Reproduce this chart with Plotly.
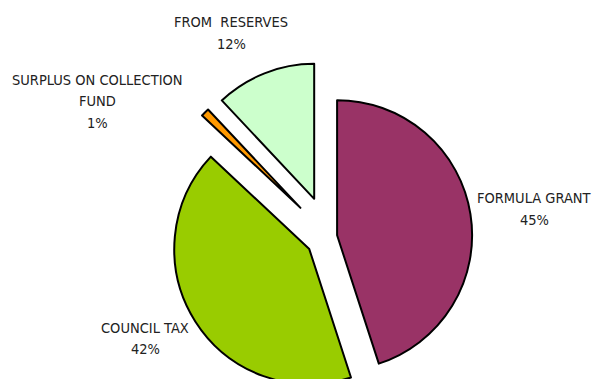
import plotly.graph_objects as go

# Sources of funding (share of total, %)
categories = ["FORMULA GRANT", "COUNCIL TAX", "SURPLUS ON COLLECTION<br>FUND", "FROM  RESERVES"]
shares = [45, 42, 1, 12]

slice_colors = ["#993366", "#99CC00", "#FF9900", "#CCFFCC"]
slice_pull = [0.06, 0.174, 0.30, 0.30]

W, H = 593, 412
LINE_GAP = 21.5

# label block centres in pixels (x, y from top)
label_pos = [(534, 209), (145, 338.5), (97, 101.5), (231, 33)]

label_font = dict(family="DejaVu Sans Condensed, Liberation Sans, Arial", size=14.5, color="#222222")


def px_to_paper(x, y):
    return x / W, 1 - y / H


fig = go.Figure(
    go.Pie(
        labels=categories,
        values=shares,
        sort=False,
        direction="clockwise",
        rotation=0,
        pull=slice_pull,
        marker=dict(colors=slice_colors, line=dict(color="black", width=2)),
        textinfo="none",
        hoverinfo="label+percent",
        showlegend=False,
        domain=dict(x=[153.6 / W, 504.6 / W], y=[0, 351 / H]),
    )
)

# each label: category name (possibly wrapped) followed by its percentage
for name, val, (lx, ly) in zip(categories, shares, label_pos):
    lines = name.replace("  ", "\u00a0 ").split("<br>") + [f"{val}%"]
    n = len(lines)
    for i, line in enumerate(lines):
        ax, ay = px_to_paper(lx, ly + (i - (n - 1) / 2) * LINE_GAP)
        fig.add_annotation(
            x=ax, y=ay, xref="paper", yref="paper",
            xanchor="center", yanchor="middle",
            text=line, showarrow=False, align="center",
            font=label_font,
        )

fig.update_layout(
    width=W, height=H,
    margin=dict(l=0, r=0, t=0, b=0),
    paper_bgcolor="white",
    plot_bgcolor="white",
)

fig.write_html(
    "out.html",
    post_script="document.documentElement.style.overflow='hidden';document.body.style.overflow='hidden';",
)
